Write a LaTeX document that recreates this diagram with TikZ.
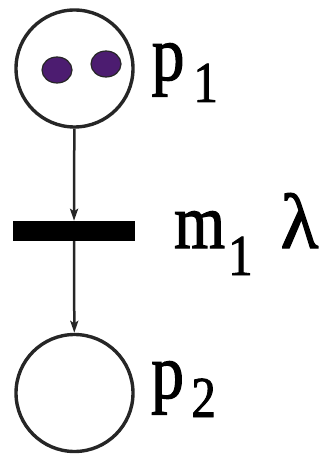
\documentclass[tikz,border=0pt]{standalone}
\usepackage{fontspec}
\setmainfont{Liberation Serif}
\newfontfamily\lblfont[FakeStretch=0.84, FakeBold=1.5]{Liberation Serif}
\newfontfamily\lamfont[FakeBold=1.5]{Liberation Serif}
\usetikzlibrary{shapes.geometric, arrows.meta, positioning, calc}
\definecolor{tokenpurple}{RGB}{76,28,112}
\newcommand{\lblsub}[2]{\raisebox{-#1pt}{\fontsize{58}{60}\selectfont #2}}
\tikzset{
  place/.style={circle, draw=black!85, line width=3.4pt, minimum size=117pt,
                inner sep=0pt},
  token/.style={ellipse, fill=tokenpurple, draw=black!85, line width=1.2pt,
                minimum width=30pt, minimum height=26pt, inner sep=0pt},
  transbar/.style={rectangle, fill=black, minimum width=122pt,
                   minimum height=20pt, inner sep=0pt},
  lbl/.style={anchor=base west, inner sep=0pt,
              font=\lblfont\fontsize{78}{80}\selectfont},
  arc/.style={-{Stealth[length=12pt, width=8pt, inset=2.5pt]},
              line width=2.5pt, draw=black!85},
}
\begin{document}
\begin{tikzpicture}[x=1pt, y=-1pt]
  \useasboundingbox (0,0) rectangle (334,454);

  % Places
  \node[place] (p1) at (74.5,68.5) {};
  \node[place] (p2) at (74.5,393) {};

  % Tokens in p1
  \node[token] (tok1) at (57,70) {};
  \node[token] (tok2) at (106,64) {};

  % Transition
  \node[transbar] (m1) at (74,231) {};

  \draw[arc] (p1) -- (m1);
  \draw[arc] (m1) -- (p2);

  % Labels
  \node[lbl] (p1lbl) at (151.5,80) {p\hspace{9pt}\lblsub{22}{1}};
  \node[lbl] (m1lbl) at (174,248)
    {m\hspace{3pt}\lblsub{27}{1}\hspace{28pt}{\lamfont\fontsize{78}{80}\selectfont λ}};
  \node[lbl] (p2lbl) at (151,398) {p\hspace{7.5pt}\lblsub{19}{2}};
\end{tikzpicture}
\end{document}
